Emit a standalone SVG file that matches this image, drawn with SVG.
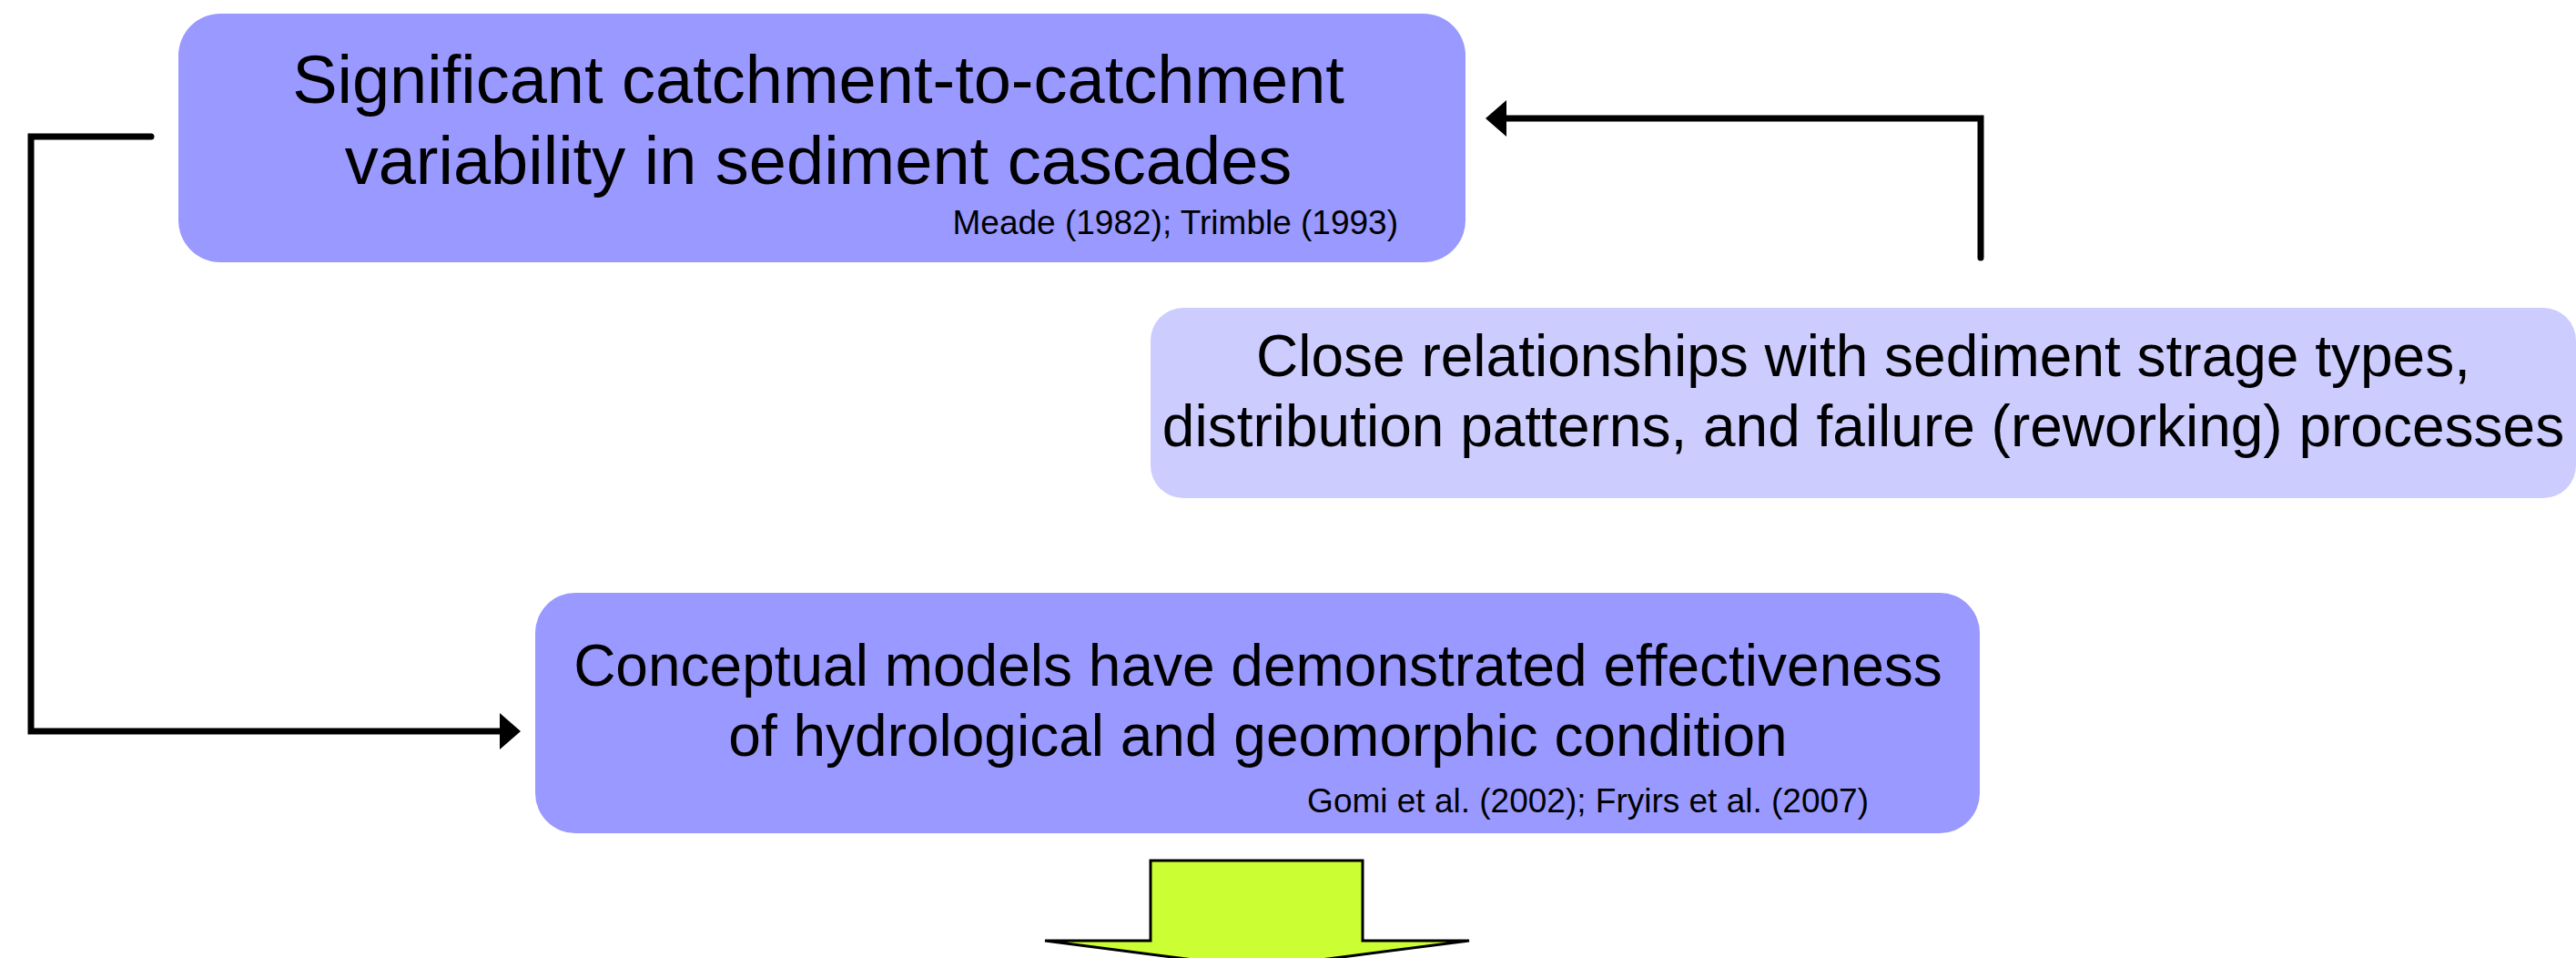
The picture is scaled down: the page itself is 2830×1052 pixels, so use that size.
<svg xmlns="http://www.w3.org/2000/svg" width="2830" height="1052" viewBox="0 0 2830 1052">
<defs>
<style>
.box1{fill:#9999FF;}
.box2{fill:#CCCCFF;}
.t{font-family:"Liberation Sans",Arial,sans-serif;fill:#000;}
.big{font-size:74px;text-anchor:middle;}
.mid{font-size:64px;text-anchor:middle;}
.cite{font-size:37px;text-anchor:end;}
.conn{fill:none;stroke:#000;stroke-width:7;stroke-linecap:round;stroke-linejoin:miter;}
.head{fill:#000;}
.block{fill:#CCFF33;stroke:#000;stroke-width:3;stroke-linejoin:miter;}
</style>
</defs>
<rect width="2830" height="1052" fill="#fff"/>
<g id="connectors">
<polyline class="conn" points="2176,283 2176,130 1652,130"/>
<polygon class="head" points="1632,130 1655,110 1655,150"/>
<polyline class="conn" points="166,150 34,150 34,803 552,803"/>
<polygon class="head" points="572,803 549,783 549,823"/>
</g>
<g id="node-variability">
<rect class="box1" x="196" y="15" width="1414" height="273" rx="46" ry="46"/>
<text class="t big" x="899" y="113">Significant catchment-to-catchment</text>
<text class="t big" x="899" y="202">variability in sediment cascades</text>
<text class="t cite" x="1536" y="257">Meade (1982); Trimble (1993)</text>
</g>
<g id="node-relationships">
<rect class="box2" x="1264" y="338" width="1566" height="209" rx="36" ry="36"/>
<text class="t mid" x="2047" y="413">Close relationships with sediment strage types,</text>
<text class="t mid" x="2047" y="490">distribution patterns, and failure (reworking) processes</text>
</g>
<g id="node-conceptual">
<rect class="box1" x="588" y="651" width="1587" height="264" rx="44" ry="44"/>
<text class="t mid" x="1382" y="753">Conceptual models have demonstrated effectiveness</text>
<text class="t mid" x="1382" y="830">of hydrological and geomorphic condition</text>
<text class="t cite" x="2053" y="892">Gomi et al. (2002); Fryirs et al. (2007)</text>
</g>
<g id="node-down-arrow">
<polygon class="block" points="1264,945 1497,945 1497,1033 1614,1033 1381,1063 1148,1033 1264,1033"/>
</g>
</svg>
